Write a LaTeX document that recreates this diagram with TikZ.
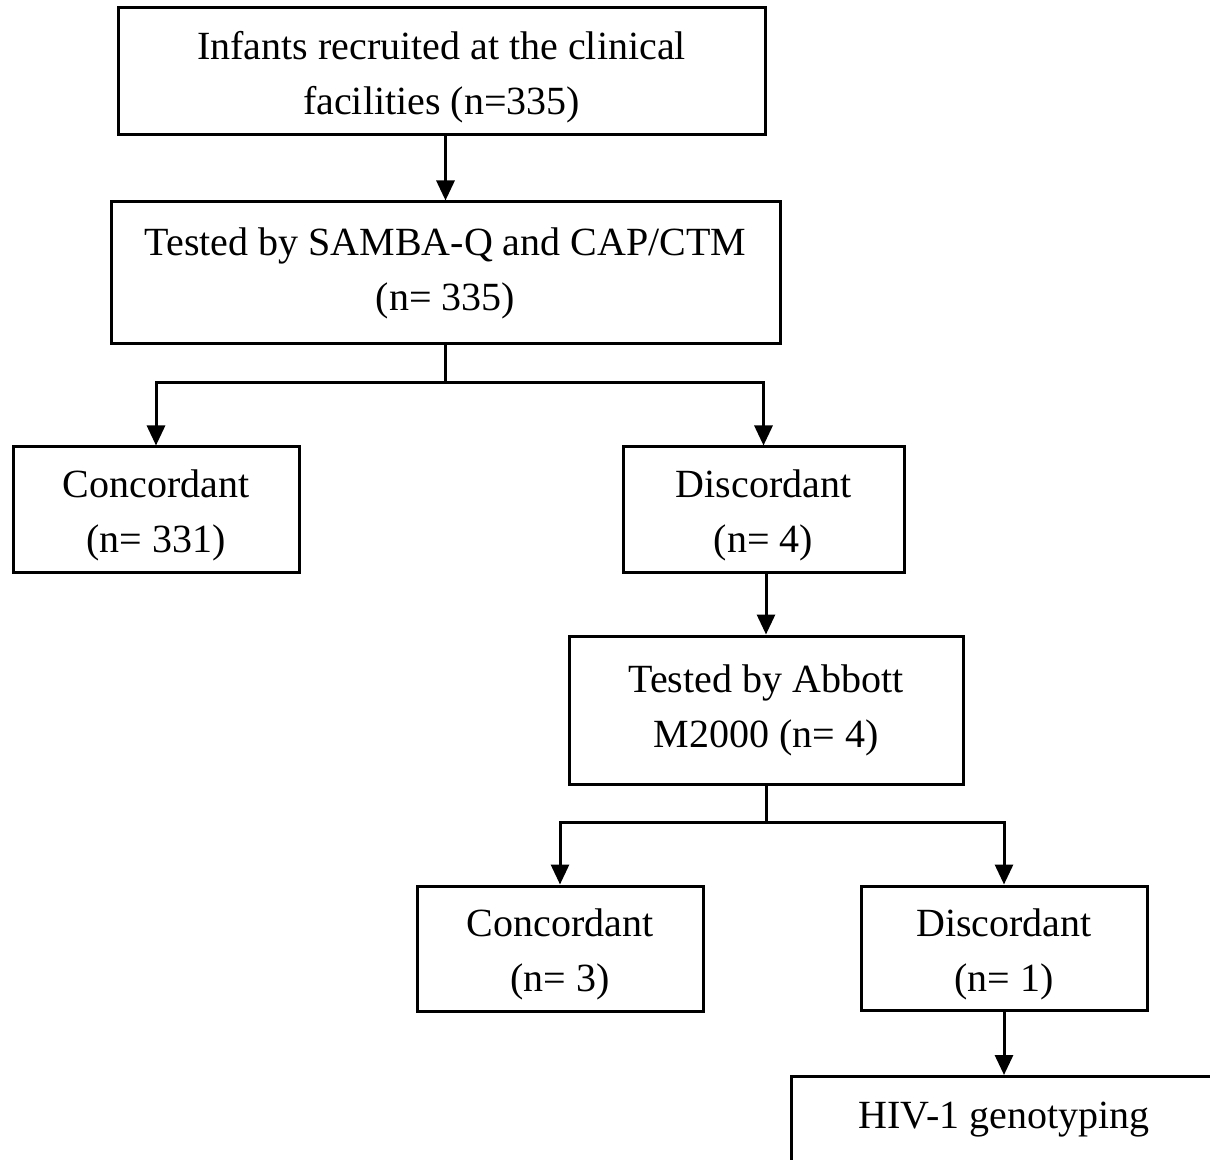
\documentclass[tikz,border=0pt]{standalone}
\usepackage{fontspec}
\setmainfont{Liberation Serif}
\usetikzlibrary{arrows.meta}
\newcommand\topstrut{\rule{0pt}{20pt}}
\begin{document}
\begin{tikzpicture}[x=.5pt,y=-.5pt,
	box/.style={draw,line width=1.5pt,align=center,inner sep=0pt,font=\fontsize{20}{27.5}\selectfont},
	arr/.style={line width=1.5pt,-{Triangle[width=9pt,length=10pt]}}]
	\useasboundingbox (0,0) rectangle (1210,1160);
	\clip (0,0) rectangle (1210,1160);
	\node[box,minimum width=323.5pt,minimum height=63.5pt] (infants) at (441.5,71.5) {\topstrut Infants recruited at the clinical\\facilities (n=335)};
	\node[box,minimum width=334.5pt,minimum height=71pt] (tested) at (445.5,273) {Tested by SAMBA-Q and CAP/CTM\\(n= 335)};
	\node[box,minimum width=143pt,minimum height=62.5pt] (conc1) at (156,509.5) {\topstrut Concordant\\(n= 331)};
	\node[box,minimum width=140.5pt,minimum height=62.5pt] (disc1) at (763.5,509.5) {\topstrut Discordant\\(n= 4)};
	\node[box,minimum width=197pt,minimum height=74pt] (abbott) at (766,710) {Tested by Abbott\\M2000 (n= 4)};
	\node[box,minimum width=143pt,minimum height=62.5pt] (conc2) at (560,948.5) {\topstrut Concordant\\(n= 3)};
	\node[box,minimum width=143pt,minimum height=62pt] (disc2) at (1004,948) {\topstrut Discordant\\(n= 1)};
	\node[box,anchor=north,minimum width=213pt,text height=26pt,text depth=25pt] (geno) at (1004,1075) {HIV-1 genotyping};
	\coordinate (split1) at (445.5,383);
	\coordinate (split2) at (766,822);
	\draw[arr] (tested.north |- infants.south)--(tested.north);
	\draw[arr] (tested.south)--(split1)-|(conc1.north);
	\draw[arr] (split1)-|(disc1.north);
	\draw[arr] (abbott.north |- disc1.south)--(abbott.north);
	\draw[arr] (abbott.south)--(split2)-|(conc2.north);
	\draw[arr] (split2)-|(disc2.north);
	\draw[arr] (disc2.south)--(geno.north);
	%\draw[help lines] (0,0) grid[step=100] (1210,1160);
\end{tikzpicture}
\end{document}
